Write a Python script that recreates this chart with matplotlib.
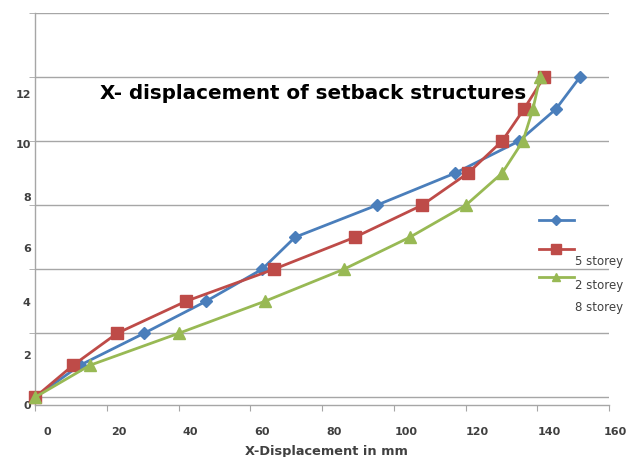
#!/usr/bin/env python3
import matplotlib
matplotlib.use("Agg")
import matplotlib.pyplot as plt
import matplotlib.transforms as mtransforms
from matplotlib.lines import Line2D

# storey level for every point (same for all three series)
storeys = [0, 1, 2, 3, 4, 5, 6, 7, 8, 9, 10]

# X-displacement in mm
disp_blue = [0, 12.5, 30.4, 47.7, 63.3, 72.5, 95.3, 117.1, 134.9, 145.2, 151.9]
disp_red = [0, 10.6, 22.9, 42.1, 66.6, 89.2, 107.9, 120.7, 130.2, 136.3, 141.9]
disp_green = [0, 15.3, 40.1, 64.1, 86.1, 104.5, 120.1, 130.2, 136.0, 138.8, 140.8]

series_names = ["5 storey", "2 storey", "8 storey"]

x_ticks = [0, 20, 40, 60, 80, 100, 120, 140, 160]
grid_levels = [0, 2, 4, 6, 8, 10, 12]
y_tick_labels = ["0", "2", "4", "6", "8", "10", "12"]
# the y labels in the original sit off the gridlines
y_label_pos = [-0.24, 1.32, 2.97, 4.65, 6.27, 7.9, 9.46]

title = "X- displacement of setback structures"
xlabel = "X-Displacement in mm"

BLUE = "#4A7EBB"
RED = "#BE4B48"
GREEN = "#98B954"
GRID = "#A6A6A6"
TXT = "#404040"

plt.rcParams["font.family"] = ["DejaVu Sans"]

fig = plt.figure(figsize=(6.28, 4.57), dpi=100)
ax = fig.add_axes([35 / 628, 1 - 405 / 457, 574 / 628, 392 / 457])

styles = [
    (disp_blue, BLUE, "D", 6.5),
    (disp_red, RED, "s", 8.5),
    (disp_green, GREEN, "^", 8),
]
handles = []
for (xs, col, mk, ms) in styles:
    ax.plot(xs, storeys, color=col, lw=2, marker=mk, ms=ms,
            markeredgecolor=col, clip_on=False, zorder=3)
    handles.append(Line2D([], [], color=col, lw=2, marker=mk, ms=ms * 0.8))

ax.set_xlim(0, 160)
ax.set_ylim(0, 12)

# gridlines on minor ticks, labels on major ticks
ax.set_yticks(grid_levels, minor=True)
ax.set_yticks(y_label_pos)
ax.set_yticklabels(y_tick_labels)
ax.yaxis.grid(True, which="minor", color=GRID, lw=1)
ax.tick_params(axis="y", which="minor", length=4, color=GRID, direction="out")
ax.tick_params(axis="y", which="major", length=0, pad=3, labelsize=8,
               labelcolor=TXT)

ax.set_xticks(x_ticks)
ax.tick_params(axis="x", which="major", length=4, color=GRID, direction="out",
               pad=12, labelsize=8, labelcolor=TXT)
# x labels in the original sit a bit to the right of their ticks
xlabels = ax.get_xticklabels()
offset = mtransforms.ScaledTranslation(12 / 100, 0, fig.dpi_scale_trans)
for lab in xlabels[:-1]:
    lab.set_transform(lab.get_transform() + offset)
last_off = mtransforms.ScaledTranslation(18 / 100, 0, fig.dpi_scale_trans)
xlabels[-1].set_transform(xlabels[-1].get_transform() + last_off)
xlabels[-1].set_horizontalalignment("right")
for lab in ax.get_xticklabels() + ax.get_yticklabels():
    lab.set_fontweight("bold")

for s in ["top", "right"]:
    ax.spines[s].set_visible(False)
for s in ["left", "bottom"]:
    ax.spines[s].set_color(GRID)
    ax.spines[s].set_linewidth(1)

ax.text(0.484, 0.794, title, transform=ax.transAxes, ha="center", va="center",
        fontsize=14.3, fontweight="bold", color="black")

fig.text(326 / 628, 1 - 451 / 457, xlabel, ha="center", va="center",
         fontsize=9.3, fontweight="bold", color=TXT)

leg = fig.legend(handles, ["", "", ""], loc="upper left",
                 bbox_to_anchor=(533 / 628, 1 - 210 / 457), frameon=False,
                 handlelength=3.2, labelspacing=1.7, fontsize=8,
                 borderpad=0, handletextpad=0)

for name, ypix in zip(series_names, [261, 285, 308]):
    fig.text(575 / 628, 1 - ypix / 457, name, ha="left", va="center",
             fontsize=8.5, color=TXT)

fig.savefig("out.png", dpi=100)
